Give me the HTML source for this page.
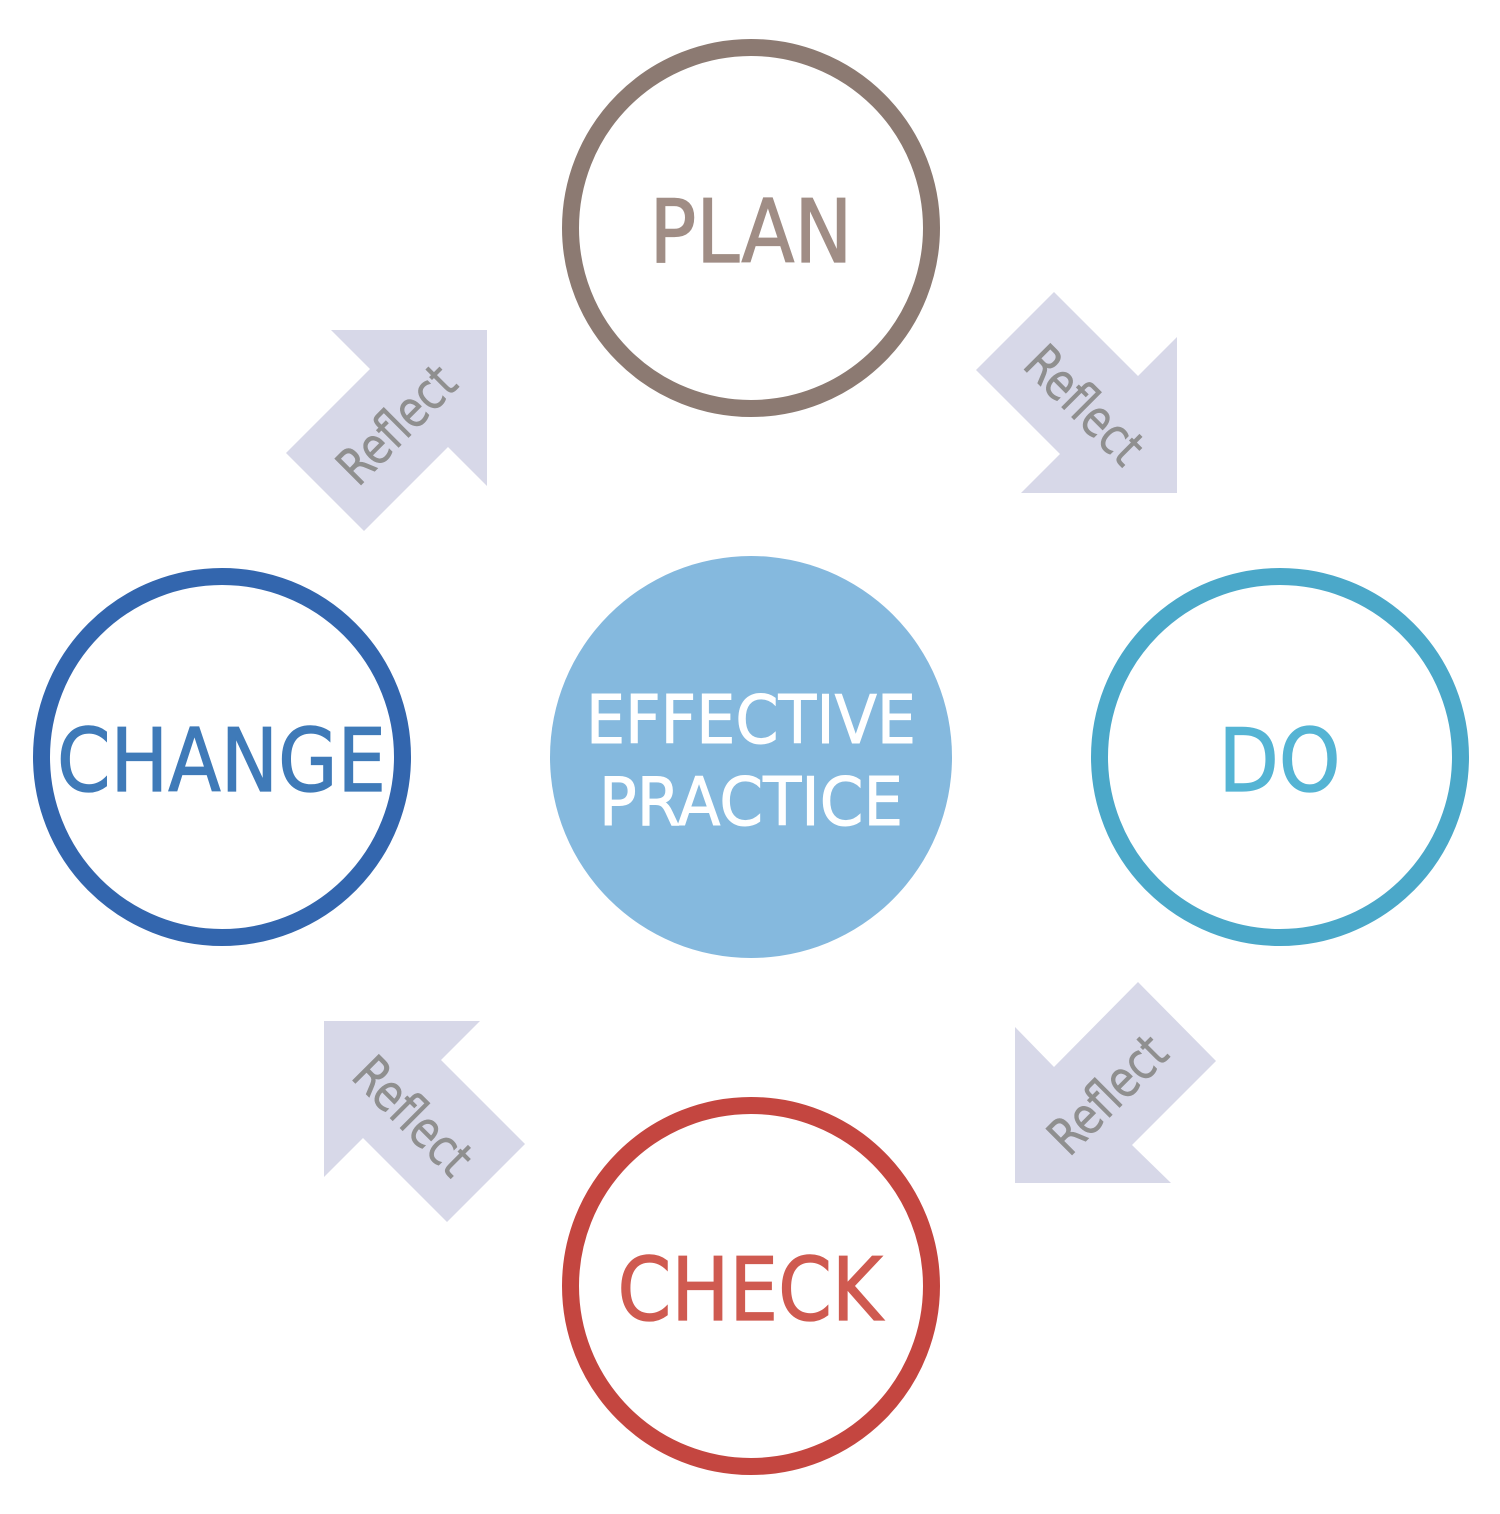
<!DOCTYPE html>
<html>
<head>
<meta charset="utf-8">
<style>
html,body{margin:0;padding:0;background:#fff;}
svg{display:block;}
text{font-family:"DejaVu Sans","Liberation Sans",sans-serif;text-anchor:middle;}
</style>
</head>
<body>
<svg width="1500" height="1514" viewBox="0 0 1500 1514" xmlns="http://www.w3.org/2000/svg">
<rect width="1500" height="1514" fill="#fff"/>
<circle cx="751" cy="228" r="180.500" fill="#fff" stroke="#8c7a72" stroke-width="17"/>
<circle cx="1280" cy="757" r="180.500" fill="#fff" stroke="#4ba8c9" stroke-width="17"/>
<circle cx="751" cy="1286" r="180.500" fill="#fff" stroke="#c44640" stroke-width="17"/>
<circle cx="222" cy="757" r="180.500" fill="#fff" stroke="#3366ae" stroke-width="17"/>
<circle cx="751" cy="757" r="201" fill="#85b9de"/>

<g fill="#d7d8e8">
<polygon points="1054,292 1138,376 1177,337 1177,493 1021,493 1060,454 976,370"/>
<polygon points="1216,1061 1132,1145 1171,1183 1015,1183 1015,1027 1054,1067 1138,982"/>
<polygon points="447,1222 363,1138 324,1177 324,1021 480,1021 441,1060 525,1144"/>
<polygon points="286,453 370,369 331,330 487,330 487,486 448,447 364,531"/>
</g>

<text x="751" y="262" fill="#a08d85" stroke="#a08d85" stroke-width="1.300" font-size="87" textLength="203" lengthAdjust="spacingAndGlyphs">PLAN</text>
<text x="1279.500" y="791" fill="#55b4d4" stroke="#55b4d4" stroke-width="1.300" font-size="87" textLength="122" lengthAdjust="spacingAndGlyphs">DO</text>
<text x="750" y="1320" fill="#cf5a50" stroke="#cf5a50" stroke-width="1.300" font-size="87" textLength="265" lengthAdjust="spacingAndGlyphs">CHECK</text>
<text x="221.500" y="791" fill="#3f7ab8" stroke="#3f7ab8" stroke-width="1.300" font-size="87" textLength="329" lengthAdjust="spacingAndGlyphs">CHANGE</text>
<text x="751" y="743" fill="#fff" stroke="#fff" stroke-width="1" font-size="67" textLength="330" lengthAdjust="spacingAndGlyphs">EFFECTIVE</text>
<text x="751" y="825" fill="#fff" stroke="#fff" stroke-width="1" font-size="67" textLength="304" lengthAdjust="spacingAndGlyphs">PRACTICE</text>

<g fill="#8f8f8f" stroke="#8f8f8f" stroke-width="0.600" font-size="51">
<text transform="translate(1084,405.500) rotate(45)" y="17" textLength="144" lengthAdjust="spacingAndGlyphs">Reflect</text>
<text transform="translate(1108,1095) rotate(-45)" y="17" textLength="144" lengthAdjust="spacingAndGlyphs">Reflect</text>
<text transform="translate(412.500,1116.500) rotate(45)" y="17" textLength="144" lengthAdjust="spacingAndGlyphs">Reflect</text>
<text transform="translate(397,425) rotate(-45)" y="17" textLength="144" lengthAdjust="spacingAndGlyphs">Reflect</text>
</g>
</svg>
</body>
</html>
